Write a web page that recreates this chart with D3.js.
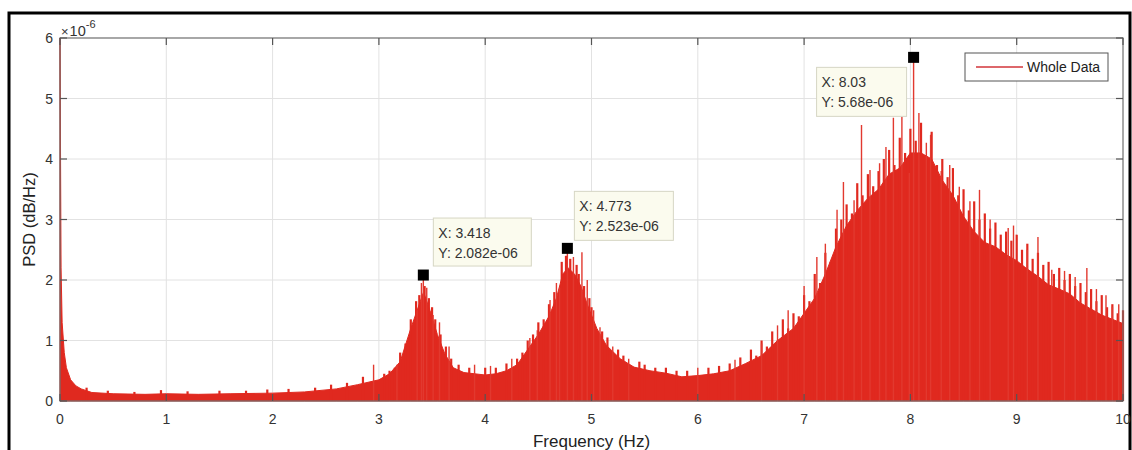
<!DOCTYPE html>
<html>
<head>
<meta charset="utf-8">
<script src="https://cdnjs.cloudflare.com/ajax/libs/d3/7.8.5/d3.min.js"></script>
<style>
  body { margin: 0; background: #fff; }
  svg { font-family: Arial, "Liberation Sans", sans-serif; }
</style>
</head>
<body>
<svg id="myPlot" width="1132" height="450"></svg>
<script>
// PSD (units of 1e-6), dense body of the red fill
const freq = [0, 0.01, 0.02, 0.04, 0.06, 0.1, 0.15, 0.2, 0.3, 0.5, 0.8, 1.0, 1.3, 1.6, 2.0, 2.3, 2.6, 2.8,
  3.0, 3.1, 3.2, 3.3, 3.36, 3.42, 3.48, 3.55, 3.62, 3.7, 3.8, 3.9, 4.0, 4.1, 4.2, 4.3, 4.4, 4.5, 4.6,
  4.67, 4.73, 4.78, 4.84, 4.9, 4.96, 5.05, 5.14, 5.27, 5.4, 5.55, 5.7, 5.85, 6.0, 6.15, 6.3, 6.45, 6.6,
  6.75, 6.9, 7.0, 7.1, 7.2, 7.3, 7.4, 7.5, 7.6, 7.7, 7.8, 7.9, 8.0, 8.1, 8.2, 8.3, 8.4, 8.5, 8.6, 8.7,
  8.8, 8.9, 9.0, 9.1, 9.2, 9.3, 9.4, 9.5, 9.6, 9.7, 9.8, 9.9, 10.0];
const psdTop = [6.0, 2.2, 1.3, 0.8, 0.55, 0.35, 0.25, 0.2, 0.14, 0.12, 0.11, 0.12, 0.11, 0.12, 0.13, 0.15, 0.2, 0.27,
  0.35, 0.45, 0.65, 1.2, 1.5, 1.8, 1.5, 1.1, 0.78, 0.55, 0.47, 0.45, 0.43, 0.45, 0.5, 0.6, 0.85, 1.1, 1.4,
  1.7, 2.1, 2.2, 2.1, 1.9, 1.6, 1.2, 0.92, 0.7, 0.56, 0.5, 0.46, 0.4, 0.42, 0.45, 0.5, 0.62, 0.75,
  1.0, 1.2, 1.45, 1.7, 2.1, 2.55, 2.9, 3.15, 3.35, 3.5, 3.75, 3.85, 4.1, 4.1, 4.0, 3.65, 3.4, 3.05, 2.8, 2.62,
  2.55, 2.42, 2.32, 2.18, 2.06, 1.92, 1.85, 1.77, 1.62, 1.52, 1.42, 1.35, 1.28];

// ragged top of the fill
const hairFreq = [0.25, 0.45, 0.7, 0.95, 1.2, 1.5, 1.75, 1.95, 2.15, 2.4, 2.55, 2.7, 2.85,
  3.05, 3.1, 3.15, 3.2, 3.25, 3.3, 3.35, 3.38, 3.43, 3.47, 3.5, 3.53, 3.58, 3.63, 3.68, 3.75, 3.85,
  4.0, 4.1, 4.2, 4.3, 4.35, 4.4, 4.45, 4.5, 4.55, 4.6, 4.65, 4.72, 4.76, 4.8, 4.86, 4.88, 4.93, 4.98,
  5.0, 5.1, 5.15, 5.25, 5.3, 5.45, 5.5, 5.6, 5.7, 5.8, 5.9, 6.1, 6.2, 6.3, 6.4,
  6.5, 6.55, 6.6, 6.65, 6.7, 6.75, 6.8, 6.85, 6.9, 6.95, 7.0, 7.05, 7.1, 7.15, 7.2, 7.25, 7.3, 7.35,
  7.4, 7.45, 7.5, 7.55, 7.6, 7.65, 7.7, 7.75, 7.8, 7.85, 7.9, 7.95, 8.0, 8.05, 8.1, 8.15, 8.2, 8.25,
  8.3, 8.35, 8.4, 8.45, 8.5, 8.55, 8.6, 8.65, 8.7, 8.75, 8.8, 8.85, 8.9, 8.95, 9.0, 9.05, 9.1, 9.15,
  9.2, 9.25, 9.3, 9.35, 9.4, 9.45, 9.5, 9.55, 9.6, 9.65, 9.7, 9.75, 9.8, 9.85, 9.9, 9.95, 10.0];
const hairVal = [0.22, 0.17, 0.15, 0.18, 0.16, 0.17, 0.17, 0.19, 0.2, 0.22, 0.27, 0.3, 0.4,
  0.45, 0.5, 0.55, 0.8, 0.95, 1.35, 1.65, 1.75, 1.9, 1.7, 1.55, 1.35, 1.1, 0.9, 0.7, 0.6, 0.55,
  0.55, 0.55, 0.62, 0.7, 0.8, 1.0, 1.1, 1.3, 1.35, 1.6, 1.8, 2.3, 2.4, 2.35, 2.25, 2.1, 1.9, 1.7,
  1.55, 1.15, 1.05, 0.85, 0.75, 0.65, 0.6, 0.55, 0.55, 0.5, 0.5, 0.55, 0.58, 0.62, 0.72,
  0.85, 0.75, 1.0, 0.9, 1.15, 1.0, 1.35, 1.2, 1.45, 1.4, 1.75, 1.65, 2.1, 1.95, 2.45, 2.3, 2.85, 3.0,
  3.25, 3.1, 3.6, 3.4, 3.75, 3.55, 3.8, 4.0, 4.15, 3.9, 4.35, 4.1, 4.5, 4.3, 4.6, 4.0, 4.45, 3.9,
  4.0, 3.7, 3.85, 3.4, 3.5, 3.15, 3.3, 3.0, 3.1, 2.85, 2.95, 2.75, 2.8, 2.65, 2.75, 2.5, 2.6, 2.35,
  2.45, 2.25, 2.3, 2.1, 2.2, 2.0, 2.1, 1.9, 1.95, 1.8, 1.85, 1.65, 1.75, 1.55, 1.6, 1.45, 1.5];

// single tall spikes sticking out of the fill
const spikeFreq = [2.95, 3.17, 3.36, 3.40, 3.418, 3.45, 3.51, 3.57, 3.66, 3.9, 4.05, 4.25, 4.42, 4.49, 4.61,
  4.67, 4.70, 4.773, 4.83, 4.91, 4.96, 5.02, 5.08, 5.2, 5.35, 6.0, 6.35, 6.6, 6.75, 6.85, 7.0, 7.12, 7.2,
  7.31, 7.37, 7.47, 7.54, 7.62, 7.71, 7.77, 7.84, 7.92, 7.99, 8.03, 8.08, 8.15, 8.19, 8.29, 8.37, 8.46,
  8.56, 8.65, 8.75, 8.92, 8.97, 9.1, 9.2, 9.33, 9.45, 9.55, 9.66, 9.75, 9.84, 9.9, 9.96];
const spikeVal = [0.6, 0.6, 1.5, 1.95, 2.082, 1.87, 1.42, 1.3, 0.9, 0.6, 0.58, 0.7, 1.04, 1.17, 1.67,
  1.95, 1.87, 2.523, 2.38, 2.46, 2.0, 1.5, 1.22, 0.9, 0.7, 0.55, 0.68, 0.95, 1.25, 1.5, 1.9, 2.38, 2.6,
  3.16, 3.62, 3.32, 4.56, 3.82, 3.93, 4.2, 4.68, 4.7, 3.77, 5.68, 4.76, 4.27, 4.4, 3.8, 3.9, 3.54,
  3.3, 3.49, 3.0, 2.86, 2.9, 2.5, 2.71, 2.17, 2.15, 2.05, 2.2, 1.85, 1.75, 1.56, 1.6];

// data tips
const tipX = [3.418, 4.773, 8.03];
const tipY = [2.082, 2.523, 5.68];
const tipLabelX = ["X: 3.418", "X: 4.773", "X: 8.03"];
const tipLabelY = ["Y: 2.082e-06", "Y: 2.523e-06", "Y: 5.68e-06"];

const xTicks = [0, 1, 2, 3, 4, 5, 6, 7, 8, 9, 10];
const yTicks = [0, 1, 2, 3, 4, 5, 6];

const pLeft = 60, pRight = 1123, pTop = 38, pBottom = 401;
const red = "#e0291f";
const svg = d3.select("#myPlot");

// outer frame of the picture
svg.append("rect")
  .attr("x", 9).attr("y", 13).attr("width", 1121).attr("height", 460)
  .style("fill", "none").style("stroke", "#000").style("stroke-width", 3);

const x = d3.scaleLinear().domain([0, 10]).range([pLeft, pRight]);
const y = d3.scaleLinear().domain([0, 6]).range([pBottom, pTop]);

// grid
svg.append("g").selectAll("line").data(xTicks.slice(1, -1)).enter().append("line")
  .attr("x1", d => x(d)).attr("x2", d => x(d)).attr("y1", pTop).attr("y2", pBottom)
  .style("stroke", "#e2e2e2");
svg.append("g").selectAll("line").data(yTicks.slice(1, -1)).enter().append("line")
  .attr("y1", d => y(d)).attr("y2", d => y(d)).attr("x1", pLeft).attr("x2", pRight)
  .style("stroke", "#e2e2e2");

// the signal
const pts = freq.map((f, i) => [f, psdTop[i]]);
svg.append("path")
  .datum(pts)
  .attr("d", d3.area().x(d => x(d[0])).y0(y(0)).y1(d => y(d[1])))
  .style("fill", red)
  .style("stroke", red)
  .style("stroke-width", 1);

svg.append("g").selectAll("line").data(hairFreq).enter().append("line")
  .attr("x1", d => x(d)).attr("x2", d => x(d))
  .attr("y1", y(0)).attr("y2", (d, i) => y(hairVal[i]))
  .style("stroke", red)
  .style("stroke-width", 2.2);

svg.append("g").selectAll("line").data(spikeFreq).enter().append("line")
  .attr("x1", d => x(d)).attr("x2", d => x(d))
  .attr("y1", y(0)).attr("y2", (d, i) => y(spikeVal[i]))
  .style("stroke", "#e2392f")
  .style("stroke-width", 1.4);

// box + ticks (inside, all four sides)
svg.append("rect")
  .attr("x", pLeft).attr("y", pTop).attr("width", pRight - pLeft).attr("height", pBottom - pTop)
  .style("fill", "none").style("stroke", "#6e6e6e").style("stroke-width", 1.2);

const tk = 7;
const ticks = svg.append("g").style("stroke", "#555").style("stroke-width", 1.2);
xTicks.forEach(d => {
  ticks.append("line").attr("x1", x(d)).attr("x2", x(d)).attr("y1", pBottom).attr("y2", pBottom - tk);
  ticks.append("line").attr("x1", x(d)).attr("x2", x(d)).attr("y1", pTop).attr("y2", pTop + tk);
});
yTicks.forEach(d => {
  ticks.append("line").attr("y1", y(d)).attr("y2", y(d)).attr("x1", pLeft).attr("x2", pLeft + tk);
  ticks.append("line").attr("y1", y(d)).attr("y2", y(d)).attr("x1", pRight).attr("x2", pRight - tk);
});

// tick labels
svg.append("g").selectAll("text").data(xTicks).enter().append("text")
  .attr("x", d => x(d)).attr("y", 424)
  .attr("text-anchor", "middle")
  .style("font-size", "14px").style("fill", "#333")
  .text(d => d);
svg.append("g").selectAll("text").data(yTicks).enter().append("text")
  .attr("x", 53).attr("y", d => y(d) + 5)
  .attr("text-anchor", "end")
  .style("font-size", "14px").style("fill", "#333")
  .text(d => d);

// exponent
const ex = svg.append("text").attr("x", 61).attr("y", 36).style("fill", "#333");
ex.append("tspan").style("font-size", "13px").text("\u00d7");
ex.append("tspan").style("font-size", "14.5px").attr("dx", 1).text("10");
ex.append("tspan").style("font-size", "11px").attr("dy", -8).text("-6");

// axis labels
svg.append("text")
  .attr("transform", "translate(35," + (pTop + pBottom) / 2 + ") rotate(-90)")
  .attr("text-anchor", "middle")
  .style("font-size", "16.5px").style("fill", "#222")
  .text("PSD (dB/Hz)");
svg.append("text")
  .attr("x", (pLeft + pRight) / 2).attr("y", 447)
  .attr("text-anchor", "middle")
  .style("font-size", "17px").style("fill", "#222")
  .text("Frequency (Hz)");

// legend
svg.append("rect")
  .attr("x", 965).attr("y", 53).attr("width", 143).attr("height", 28)
  .style("fill", "#fff").style("stroke", "#555").style("stroke-width", 1);
svg.append("line")
  .attr("x1", 976).attr("x2", 1023).attr("y1", 67).attr("y2", 67)
  .style("stroke", "#d2343a").style("stroke-width", 1.5);
svg.append("text")
  .attr("x", 1027).attr("y", 72)
  .style("font-size", "14px").style("fill", "#222")
  .text("Whole Data");

// data tip boxes: [dx, dy, w, h] of box from the marker
const tipBox = [[10, -57, 98, 48], [7, -57, 99, 49], [-97, 10, 90, 49]];
tipX.forEach((f, i) => {
  const mx = x(f), my = y(tipY[i]);
  const b = tipBox[i];
  svg.append("rect")
    .attr("x", mx + b[0]).attr("y", my + b[1]).attr("width", b[2]).attr("height", b[3])
    .style("fill", "#fbfbee").style("stroke", "#d6d6c4").style("stroke-width", 1);
  svg.append("text")
    .attr("x", mx + b[0] + 5).attr("y", my + b[1] + 20)
    .style("font-size", "14px").style("fill", "#333")
    .text(tipLabelX[i]);
  svg.append("text")
    .attr("x", mx + b[0] + 5).attr("y", my + b[1] + 40)
    .style("font-size", "14px").style("fill", "#333")
    .text(tipLabelY[i]);
  svg.append("rect")
    .attr("x", mx - 5.5).attr("y", my - 5.5).attr("width", 11).attr("height", 11)
    .style("fill", "#000");
});
</script>
</body>
</html>
